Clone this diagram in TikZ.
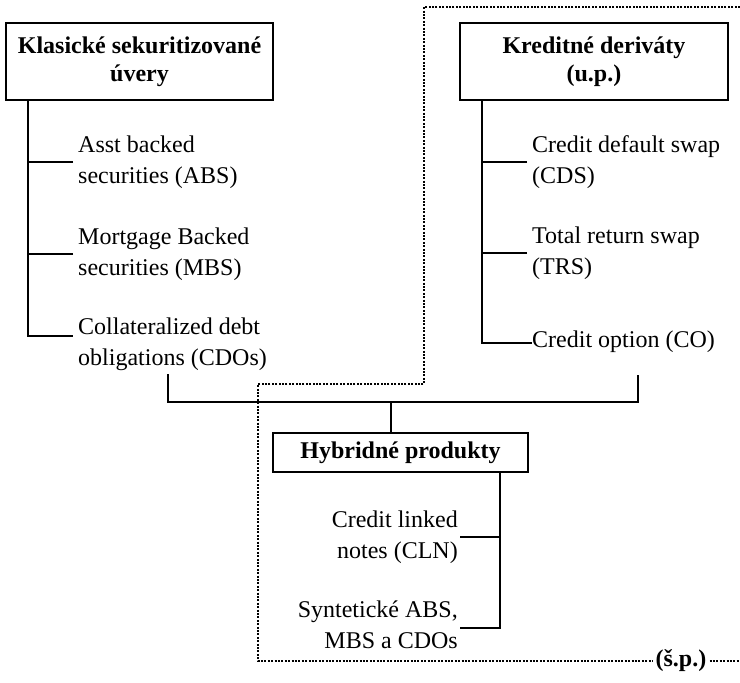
\documentclass[tikz,border=0pt]{standalone}
\usepackage{fontspec}
\setmainfont{Liberation Serif}
\begin{document}
\begin{tikzpicture}[x=1pt,y=-1pt,
  hdr/.style={draw, line width=2.5pt, font=\fontsize{24}{28}\selectfont\bfseries, align=center, inner sep=0pt},
  item/.style={font=\fontsize{24}{31}\selectfont, align=left, inner xsep=5pt, inner ysep=0pt, anchor=west},
  ritem/.style={font=\fontsize{24}{31}\selectfont, align=right, inner xsep=2pt, inner ysep=0pt, anchor=east},
  conn/.style={line width=1.5pt},
  bound/.style={line width=2.8pt, dash pattern=on 2pt off 1.4pt}]
\useasboundingbox (0,0) rectangle (740,683);
% header boxes
\node[hdr, minimum width=267pt, minimum height=77pt] (kls) at (139.5,61.5) {Klasické sekuritizované\\úvery};
\node[hdr, minimum width=268pt, minimum height=77pt] (krd) at (594,61.5) {Kreditné deriváty\\(u.p.)};
\node[hdr, minimum width=255pt, minimum height=39pt] (hyb) at (400.5,452.5) {Hybridné produkty};
% items
\node[item] (abs) at (73,162) {Asst backed\\securities (ABS)};
\node[item] (mbs) at (73,254) {Mortgage Backed\\securities (MBS)};
\node[item] (cdo) at (73,344) {Collateralized debt\\obligations (CDOs)};
\node[item] (cds) at (527,162) {Credit default swap\\(CDS)};
\node[item] (trs) at (527,253) {Total return swap\\(TRS)};
\node[item, inner xsep=0pt] (co) at (532,342) {Credit option (CO)};
\node[ritem] (cln) at (460,537) {Credit linked\\notes (CLN)};
\node[ritem] (syn) at (460,625) {Syntetické ABS,\\MBS a CDOs};
% trunk coordinates
\coordinate (v1) at (28,0);
\coordinate (v2) at (482,0);
\coordinate (v3) at (500,0);
% left tree
\draw[conn] (kls.south -| v1) |- ([yshift=8pt]cdo.west);
\draw[conn] (abs.west) -- (abs.west -| v1);
\draw[conn] (mbs.west) -- (mbs.west -| v1);
% right tree
\draw[conn] (krd.south -| v2) |- ([yshift=-1pt]co.west);
\draw[conn] (cds.west) -- (cds.west -| v2);
\draw[conn] (trs.west) -- (trs.west -| v2);
% hybrid tree
\draw[conn] (hyb.south -| v3) |- ([yshift=-3pt]syn.east);
\draw[conn] (cln.east) -- (cln.east -| v3);
% joining bracket
\coordinate (jL) at (168,374);
\coordinate (jR) at (638,375);
\coordinate (jM) at (391,402);
\draw[conn] (jL) |- (jM) -| (jR);
\draw[conn] (jM) -- (jM |- hyb.north);
% dotted boundary
\node[font=\fontsize{24}{28}\selectfont\bfseries, inner xsep=3pt] (sp) at (681,661) {(š.p.)};
\draw[bound] (740,7) -- (424,7) -- (424,384) -- (258,384) -- (258,661) -- (sp.west);
\draw[bound] (sp.east) -- (740,661);
\end{tikzpicture}
\end{document}
